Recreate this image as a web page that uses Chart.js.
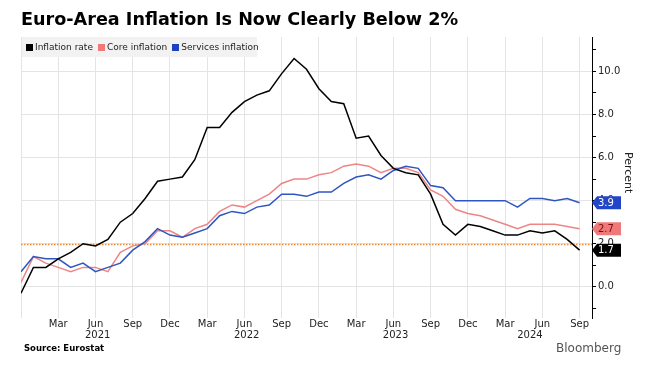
<!DOCTYPE html>
<html>
<head>
<meta charset="utf-8">
<script src="https://cdn.jsdelivr.net/npm/chart.js@4.4.1/dist/chart.umd.min.js"></script>
<style>
  body { margin: 0; width: 660px; height: 374px; background: #fff; position: relative; overflow: hidden; font-family: "DejaVu Sans", sans-serif; }
  #chart { position: absolute; left: 0; top: 0; }
  #title { position: absolute; left: 21px; top: 9px; font-size: 17.6px; font-weight: bold; color: #000; white-space: nowrap; }
  #legend { position: absolute; left: 22px; top: 37px; width: 235px; height: 20px; background: #f2f2f2; font-size: 9px; color: #222; white-space: nowrap; line-height: 20px; }
  #legend span.sw { display: inline-block; width: 7px; height: 7px; margin: 0 2px 0 4px; vertical-align: -0.5px; }
  #legend span.it { margin-right: 1px; }
  #percent { position: absolute; left: 622px; top: 152px; font-size: 11px; color: #222; writing-mode: vertical-rl; }
  #source { position: absolute; left: 24px; top: 343px; font-size: 8.5px; font-weight: bold; color: #000; }
  #logo { position: absolute; left: 556px; top: 341px; font-size: 12px; color: #555; }
</style>
</head>
<body>
<canvas id="chart" width="660" height="374"></canvas>
<div id="title">Euro-Area Inflation Is Now Clearly Below 2%</div>
<div id="legend"><span class="sw" style="background:#000"></span><span class="it">Inflation rate</span><span class="sw" style="background:#f07a7a"></span><span class="it">Core inflation</span><span class="sw" style="background:#2040c0"></span><span class="it">Services inflation</span></div>
<div id="percent">Percent</div>
<div id="source">Source: Eurostat</div>
<div id="logo">Bloomberg</div>
<script>
// monthly, Dec 2020 .. Sep 2024
const MONTHS = [
  '2020-12',
  '2021-01','2021-02','2021-03','2021-04','2021-05','2021-06','2021-07','2021-08','2021-09','2021-10','2021-11','2021-12',
  '2022-01','2022-02','2022-03','2022-04','2022-05','2022-06','2022-07','2022-08','2022-09','2022-10','2022-11','2022-12',
  '2023-01','2023-02','2023-03','2023-04','2023-05','2023-06','2023-07','2023-08','2023-09','2023-10','2023-11','2023-12',
  '2024-01','2024-02','2024-03','2024-04','2024-05','2024-06','2024-07','2024-08','2024-09'
];

const INFLATION = [
  -0.3,
  0.9, 0.9, 1.3, 1.6, 2.0, 1.9, 2.2, 3.0, 3.4, 4.1, 4.9, 5.0,
  5.1, 5.9, 7.4, 7.4, 8.1, 8.6, 8.9, 9.1, 9.9, 10.6, 10.1, 9.2,
  8.6, 8.5, 6.9, 7.0, 6.1, 5.5, 5.3, 5.2, 4.3, 2.9, 2.4, 2.9,
  2.8, 2.6, 2.4, 2.4, 2.6, 2.5, 2.6, 2.2, 1.7
];

const CORE = [
  0.2,
  1.4, 1.1, 0.9, 0.7, 0.9, 0.9, 0.7, 1.6, 1.9, 2.0, 2.6, 2.6,
  2.3, 2.7, 2.9, 3.5, 3.8, 3.7, 4.0, 4.3, 4.8, 5.0, 5.0, 5.2,
  5.3, 5.6, 5.7, 5.6, 5.3, 5.5, 5.5, 5.3, 4.5, 4.2, 3.6, 3.4,
  3.3, 3.1, 2.9, 2.7, 2.9, 2.9, 2.9, 2.8, 2.7
];

const SERVICES = [
  0.7,
  1.4, 1.3, 1.3, 0.9, 1.1, 0.7, 0.9, 1.1, 1.7, 2.1, 2.7, 2.4,
  2.3, 2.5, 2.7, 3.3, 3.5, 3.4, 3.7, 3.8, 4.3, 4.3, 4.2, 4.4,
  4.4, 4.8, 5.1, 5.2, 5.0, 5.4, 5.6, 5.5, 4.7, 4.6, 4.0, 4.0,
  4.0, 4.0, 4.0, 3.7, 4.1, 4.1, 4.0, 4.1, 3.9
];

const MONTH_NAMES = ['Jan','Feb','Mar','Apr','May','Jun','Jul','Aug','Sep','Oct','Nov','Dec'];
const TICK_MONTHS = ['Mar','Jun','Sep','Dec'];
const YEARS = ['2021','2022','2023','2024'];
const Y_TICKS = [-1, 0, 1, 2, 3, 4, 5, 6, 7, 8, 9, 10, 11];
const TARGET = 2;

const FONT = '"DejaVu Sans", sans-serif';
const GRID = '#e4e4e4';

function monthName(i) {
  return MONTH_NAMES[parseInt(MONTHS[i].slice(5), 10) - 1];
}
function pts(arr) {
  return arr.map((v, i) => ({ x: i, y: v }));
}

const series = [
  { label: 'Inflation rate', data: INFLATION, color: '#000000', boxText: '#ffffff' },
  { label: 'Services inflation', data: SERVICES, color: '#2f56c0', box: '#2346c8', boxText: '#ffffff' },
  { label: 'Core inflation', data: CORE, color: '#ee8585', box: '#f07878', boxText: '#7a1010' }
];

const extras = {
  id: 'extras',
  beforeDatasetsDraw(chart) {
    const { ctx, chartArea, scales } = chart;
    const y = Math.round(scales.y.getPixelForValue(TARGET)) + 0.5;
    ctx.save();
    ctx.strokeStyle = '#f08a30';
    ctx.lineWidth = 1.5;
    ctx.setLineDash([1.5, 1.5]);
    ctx.beginPath();
    ctx.moveTo(chartArea.left, y);
    ctx.lineTo(chartArea.right, y);
    ctx.stroke();
    ctx.restore();
  },
  afterDraw(chart) {
    const { ctx, scales } = chart;
    ctx.save();
    // year labels centred under each year's months
    ctx.font = '10px ' + FONT;
    ctx.fillStyle = '#222';
    ctx.textAlign = 'center';
    ctx.textBaseline = 'middle';
    YEARS.forEach(yr => {
      const idx = MONTHS.map((m, i) => m.startsWith(yr) ? i : -1).filter(i => i >= 0);
      const mid = (idx[0] + idx[idx.length - 1]) / 2;
      ctx.fillText(yr, scales.x.getPixelForValue(mid) - (idx.length === 12 ? 4 : 0), 335);
    });
    // last value tags on the axis
    const xr = chart.chartArea.right;
    series.forEach(s => {
      const v = s.data[s.data.length - 1];
      const yy = scales.y.getPixelForValue(v);
      ctx.fillStyle = s.box || s.color;
      ctx.beginPath();
      ctx.moveTo(xr, yy);
      ctx.lineTo(xr + 5, yy - 6.5);
      ctx.lineTo(xr + 29, yy - 6.5);
      ctx.lineTo(xr + 29, yy + 6.5);
      ctx.lineTo(xr + 5, yy + 6.5);
      ctx.closePath();
      ctx.fill();
      ctx.fillStyle = s.boxText;
      ctx.textAlign = 'left';
      ctx.fillText(v.toFixed(1), xr + 6, yy + 0.5);
    });
    ctx.restore();
  }
};

new Chart(document.getElementById('chart'), {
  type: 'line',
  data: {
    datasets: series.map(s => ({
      label: s.label,
      data: pts(s.data),
      borderColor: s.color,
      borderWidth: 1.5,
      pointRadius: 0,
      tension: 0,
      fill: false
    }))
  },
  options: {
    responsive: false,
    animation: false,
    layout: { padding: { left: 21, top: 37, right: 0, bottom: 0 } },
    plugins: { legend: { display: false }, tooltip: { enabled: false } },
    scales: {
      x: {
        type: 'linear',
        min: 0,
        max: 46,
        afterBuildTicks: s => {
          s.ticks = MONTHS.map((m, i) => i)
            .filter(i => i === 0 || TICK_MONTHS.includes(monthName(i)))
            .map(v => ({ value: v }));
        },
        afterFit: s => { s.height = 56; },
        border: { display: false },
        grid: { color: GRID, drawTicks: false },
        ticks: {
          autoSkip: false,
          maxRotation: 0,
          padding: 0,
          color: '#222',
          font: { family: FONT, size: 10 },
          callback: v => v === 0 ? '' : monthName(v)
        }
      },
      y: {
        type: 'linear',
        position: 'right',
        min: -1.45,
        max: 11.6,
        afterBuildTicks: s => { s.ticks = Y_TICKS.map(v => ({ value: v })); },
        afterFit: s => { s.width = 68; },
        border: { display: true, color: '#000', width: 1 },
        grid: {
          color: c => (c.tick && c.tick.value % 2 === 0) ? GRID : 'rgba(0,0,0,0)',
          tickColor: '#000',
          tickLength: 4,
          drawTicks: true
        },
        ticks: {
          padding: 2,
          color: '#222',
          font: { family: FONT, size: 10 },
          callback: v => v % 2 === 0 ? v.toFixed(1) : ''
        }
      }
    }
  },
  plugins: [extras]
});
</script>
</body>
</html>
